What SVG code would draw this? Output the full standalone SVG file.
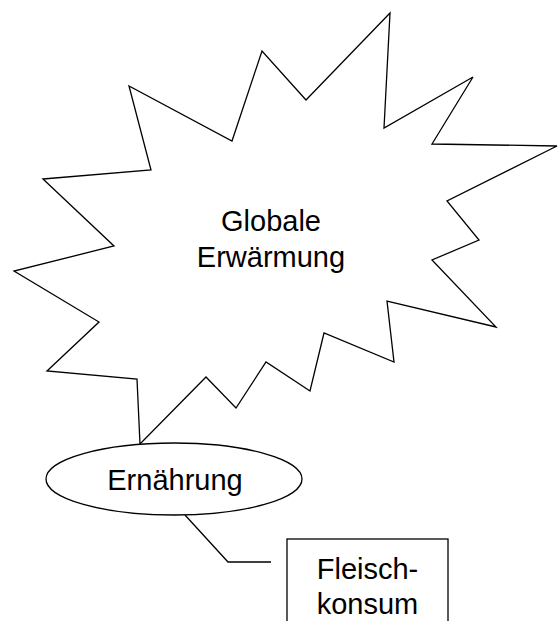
<svg xmlns="http://www.w3.org/2000/svg" width="558" height="621" viewBox="0 0 558 621">
<style>
.s{fill:#fff;stroke:#000;stroke-width:1.3;stroke-linejoin:miter}
.c{fill:none;stroke:#000;stroke-width:1.3}
.t{font-family:"Liberation Sans",Arial,sans-serif;font-size:29px;fill:#000;text-anchor:middle}
</style>
<rect width="558" height="621" fill="#fff"/>
<g id="globale-erwaermung">
<polygon class="s" points="43,179 151,170 129,86 232,141 262,51 306,100 390,13 384,128 473,77 432,144 557,146 447,201 479,240 432,260 496,327 387,301 394,362 324,333 310,391 266,362 236,408 206,377 140,444 137,379 47,371 99,322 14,271 114,246"/>
<text class="t" x="271" y="231">Globale</text>
<text class="t" x="271" y="267">Erwärmung</text>
</g>
<g id="connectors">
<polyline class="c" points="185,515 228,562 271,562"/>
</g>
<g id="ernaehrung">
<ellipse class="s" cx="174" cy="479" rx="128" ry="36"/>
<text class="t" x="175" y="490">Ernährung</text>
</g>
<g id="fleischkonsum">
<rect class="s" x="287" y="539" width="161" height="95"/>
<text class="t" x="367.5" y="579">Fleisch-</text>
<text class="t" x="367.5" y="614">konsum</text>
</g>
</svg>
